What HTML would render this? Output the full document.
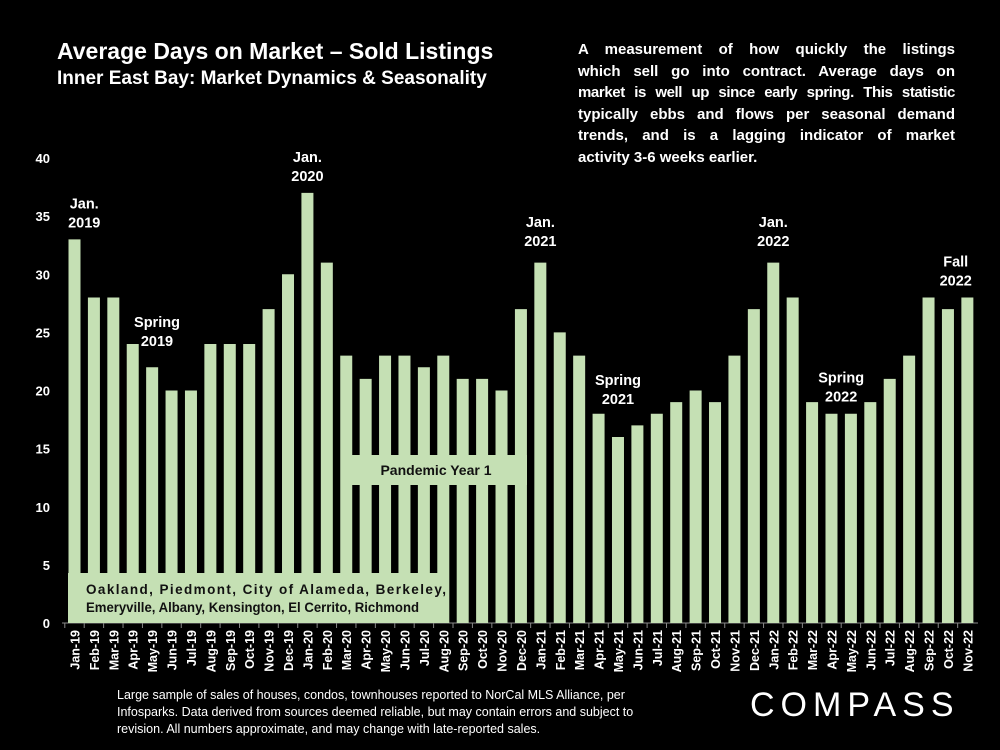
<!DOCTYPE html>
<html><head><meta charset="utf-8"><style>
body{margin:0;background:#000;width:1000px;height:750px;overflow:hidden;font-family:"Liberation Sans",sans-serif;color:#fff}
.t{position:absolute;font-weight:bold}
.j{text-align:justify;text-align-last:justify;white-space:nowrap}
</style></head><body>
<div class="t" style="left:57px;top:38px;font-size:23px">Average Days on Market – Sold Listings</div>
<div class="t" style="left:57px;top:68px;font-size:19px">Inner East Bay: Market Dynamics &amp; Seasonality</div>
<div class="t" style="left:578px;top:39px;width:377px;font-size:15px;line-height:21.6px">
<div class="j">A measurement of how quickly the listings</div>
<div class="j">which sell go into contract. Average days on</div>
<div class="j" style="letter-spacing:-0.4px">market is well up since early spring. This statistic</div>
<div class="j">typically ebbs and flows per seasonal demand</div>
<div class="j">trends, and is a lagging indicator of market</div>
<div>activity 3-6 weeks earlier.</div>
</div>
<div class="t" style="left:117px;top:687px;font-size:12.5px;line-height:17px;font-weight:normal;white-space:nowrap">Large sample of sales of houses, condos, townhouses reported to NorCal MLS Alliance, per<br>Infosparks. Data derived from sources deemed reliable, but may contain errors and subject to<br>revision. All numbers approximate, and may change with late-reported sales.</div>
<div style="position:absolute;left:750px;top:686px;font-size:34px;letter-spacing:6px;color:#fff">COMPASS</div>
<svg id="c" width="1000" height="750" style="position:absolute;left:0;top:0"></svg>
<script>
const categories=["Jan-19","Feb-19","Mar-19","Apr-19","May-19","Jun-19","Jul-19","Aug-19","Sep-19","Oct-19","Nov-19","Dec-19","Jan-20","Feb-20","Mar-20","Apr-20","May-20","Jun-20","Jul-20","Aug-20","Sep-20","Oct-20","Nov-20","Dec-20","Jan-21","Feb-21","Mar-21","Apr-21","May-21","Jun-21","Jul-21","Aug-21","Sep-21","Oct-21","Nov-21","Dec-21","Jan-22","Feb-22","Mar-22","Apr-22","May-22","Jun-22","Jul-22","Aug-22","Sep-22","Oct-22","Nov-22"];
const values=[33,28,28,24,22,20,20,24,24,24,27,30,37,31,23,21,23,23,22,23,21,21,20,27,31,25,23,18,16,17,18,19,20,19,23,27,31,28,19,18,18,19,21,23,28,27,28];
const yTicks=[0,5,10,15,20,25,30,35,40];
const annotationText=[["Jan.","2019"],["Spring","2019"],["Jan.","2020"],["Jan.","2021"],["Spring","2021"],["Jan.","2022"],["Spring","2022"],["Fall","2022"]];
const annotationIndex=[0.5,4.25,12,24,28,36,39.5,45.4];
const annotationLevel=[36.1,25.9,40.1,34.5,20.9,34.5,21.1,31.1];
const svg=document.getElementById('c'),NS='http://www.w3.org/2000/svg';
const y=v=>623-v*11.625, x=i=>74.5+i*19.41;
function mk(t,a,p){const e=document.createElementNS(NS,t);for(const k in a)e.setAttribute(k,a[k]);(p||svg).appendChild(e);return e;}
mk('line',{x1:62,x2:978,y1:623,y2:623,stroke:'#888'});
yTicks.forEach(v=>{const t=mk('text',{x:50,y:y(v)+5,'text-anchor':'end',fill:'#fff','font-size':13,'font-weight':'bold','font-family':'Liberation Sans'});t.textContent=v;

});
values.forEach((v,i)=>{const r=mk('rect',{x:x(i)-6,y:y(v),width:12,height:v*11.625,fill:'#c5e0b4'});


mk('line',{x1:x(i)-9.7,x2:x(i)-9.7,y1:623,y2:628,stroke:'#888'});
const t=mk('text',{transform:`translate(${x(i)+5},630) rotate(-90)`,'text-anchor':'end',fill:'#fff','font-size':12.5,'font-weight':'bold','font-family':'Liberation Sans'});t.textContent=categories[i];

});
annotationText.forEach((a,j)=>{const cx=x(annotationIndex[j]),top=y(annotationLevel[j]);a.forEach((s,k)=>{const t=mk('text',{x:cx,y:top+5+k*19,'text-anchor':'middle',fill:'#fff','font-size':14.5,'font-weight':'bold','font-family':'Liberation Sans'});t.textContent=s;

});});
const b1=mk('rect',{x:345,y:455,width:182,height:30,fill:'#c5e0b4'});


const p=mk('text',{x:436,y:475,'text-anchor':'middle',fill:'#111','font-size':14,'font-weight':'bold','font-family':'Liberation Sans'});p.textContent='Pandemic Year 1';


const b2=mk('rect',{x:68,y:573,width:380,height:50,fill:'#c5e0b4'});


const l1=mk('text',{x:86,y:594,fill:'#111','font-size':13.5,'font-weight':'bold','font-family':'Liberation Sans',textLength:360,lengthAdjust:'spacing'});l1.textContent='Oakland, Piedmont, City of Alameda, Berkeley,';


const l2=mk('text',{x:86,y:612,fill:'#111','font-size':13.5,'font-weight':'bold','font-family':'Liberation Sans',textLength:333,lengthAdjust:'spacingAndGlyphs'});l2.textContent='Emeryville, Albany, Kensington, El Cerrito, Richmond';


</script>
</body></html>
